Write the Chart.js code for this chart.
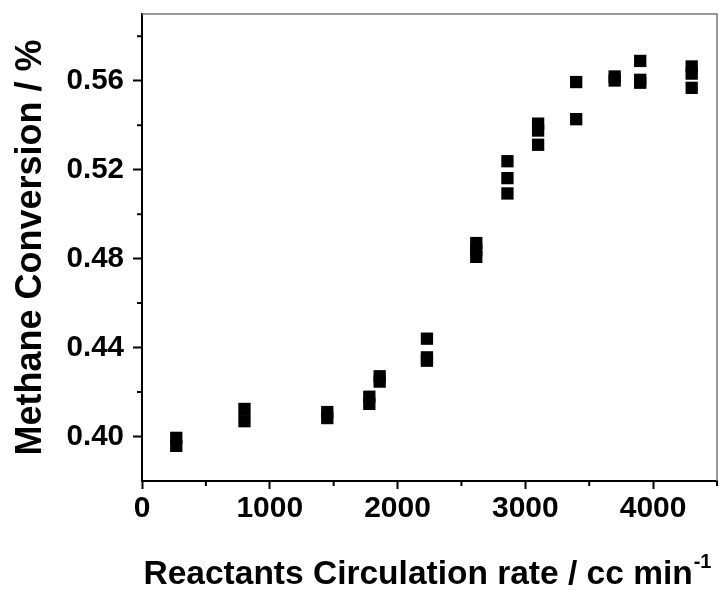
<!DOCTYPE html>
<html lang="en">
<head>
  <meta charset="UTF-8">
  <title>Methane Conversion</title>
  <style>
    body { margin: 0; background: #fff; overflow: hidden; }
  </style>
</head>
<body>
<canvas id="chart" width="719" height="590"></canvas>

<script src="https://cdn.jsdelivr.net/npm/chart.js"></script>
<script>
  // circulation rate (cc/min) and methane conversion
  const rate = [268, 268, 802, 802, 1450, 1450, 1779, 1779, 1860, 1860,
                2230, 2230, 2230, 2616, 2616, 2616, 2860, 2860, 2860,
                3100, 3100, 3100, 3398, 3398, 3699, 3699, 3899, 3899, 3899,
                4302, 4302, 4302];
  const conversion = [0.3994, 0.3958, 0.4124, 0.4069, 0.4110, 0.4083, 0.4179, 0.4147, 0.4271, 0.4247,
                      0.4440, 0.4356, 0.4341, 0.4870, 0.4840, 0.4808, 0.5238, 0.5162, 0.5093,
                      0.5407, 0.5376, 0.5312, 0.5594, 0.5427, 0.5619, 0.5601, 0.5689, 0.5604, 0.5591,
                      0.5664, 0.5632, 0.5568];

  // axis ticks
  const xMajor = [0, 1000, 2000, 3000, 4000];
  const xMinor = [500, 1500, 2500, 3500, 4500];
  const yMajor = [0.40, 0.44, 0.48, 0.52, 0.56];
  const yMinor = [0.42, 0.46, 0.50, 0.54, 0.58];

  const xTitle = 'Reactants Circulation rate / cc min';
  const xTitleSup = '-1';
  const yTitle = 'Methane Conversion / %';

  const FONT = "'Liberation Sans', Arial, sans-serif";

  // short minor ticks, grey top/right frame, x title with superscript
  const extras = {
    id: 'extras',
    afterDraw(chart) {
      const ctx = chart.ctx;
      const a = chart.chartArea;
      const xs = chart.scales.x, ys = chart.scales.y;
      ctx.save();
      ctx.strokeStyle = '#777';
      ctx.lineWidth = 1.5;
      ctx.beginPath();
      ctx.moveTo(a.left, a.top);
      ctx.lineTo(a.right, a.top);
      ctx.lineTo(a.right, a.bottom);
      ctx.stroke();

      ctx.strokeStyle = '#000';
      ctx.lineWidth = 2;
      ctx.beginPath();
      xMinor.forEach(v => {
        const px = xs.getPixelForValue(v);
        ctx.moveTo(px, a.bottom);
        ctx.lineTo(px, a.bottom + 5);
      });
      yMinor.forEach(v => {
        const py = ys.getPixelForValue(v);
        ctx.moveTo(a.left, py);
        ctx.lineTo(a.left - 5, py);
      });
      ctx.stroke();

      ctx.fillStyle = '#000';
      ctx.textBaseline = 'alphabetic';
      ctx.font = 'bold 33.5px ' + FONT;
      const wMain = ctx.measureText(xTitle).width;
      ctx.font = 'bold 20px ' + FONT;
      const wSup = ctx.measureText(xTitleSup).width;
      const start = (a.left + a.right) / 2 - (wMain + wSup + 1) / 2 - 2;
      ctx.font = 'bold 33.5px ' + FONT;
      ctx.textAlign = 'left';
      ctx.fillText(xTitle, start, 584);
      ctx.font = 'bold 20px ' + FONT;
      ctx.fillText(xTitleSup, start + wMain + 1, 568);
      ctx.restore();
    }
  };

  new Chart(document.getElementById('chart'), {
    type: 'scatter',
    data: {
      datasets: [{
        data: rate.map((x, i) => ({ x: x, y: conversion[i] })),
        pointStyle: 'rect',
        pointRadius: 8.7,
        pointBorderWidth: 0,
        backgroundColor: '#000',
        borderColor: '#000'
      }]
    },
    options: {
      responsive: false,
      animation: false,
      layout: { autoPadding: false, padding: { top: 14, right: 2, left: 0, bottom: 0 } },
      plugins: { legend: { display: false }, tooltip: { enabled: false } },
      scales: {
        x: {
          type: 'linear',
          min: 0,
          max: 4500,
          afterBuildTicks: s => { s.ticks = xMajor.map(v => ({ value: v })); },
          afterFit: s => { s.height = 109; s.paddingLeft = 0; s.paddingRight = 0; },
          grid: { drawOnChartArea: false, drawTicks: true, tickLength: 8, tickWidth: 2, tickColor: '#000' },
          border: { color: '#000', width: 2 },
          ticks: {
            color: '#000',
            padding: 2,
            maxRotation: 0,
            callback: v => String(v),
            font: { family: FONT, size: 30, weight: 'bold' }
          }
        },
        y: {
          min: 0.38,
          max: 0.59,
          afterBuildTicks: s => { s.ticks = yMajor.map(v => ({ value: v })); },
          afterFit: s => { s.width = 142; s.paddingTop = 0; s.paddingBottom = 0; },
          grid: { drawOnChartArea: false, drawTicks: true, tickLength: 9, tickWidth: 2, tickColor: '#000' },
          border: { color: '#000', width: 2 },
          ticks: {
            color: '#000',
            padding: 9,
            callback: v => v.toFixed(2),
            font: { family: FONT, size: 29.5, weight: 'bold' }
          },
          title: {
            display: true,
            text: yTitle,
            color: '#000',
            padding: { top: 9, bottom: 0 },
            font: { family: FONT, size: 36, weight: 'bold' }
          }
        }
      }
    },
    plugins: [extras]
  });
</script>
</body>
</html>
